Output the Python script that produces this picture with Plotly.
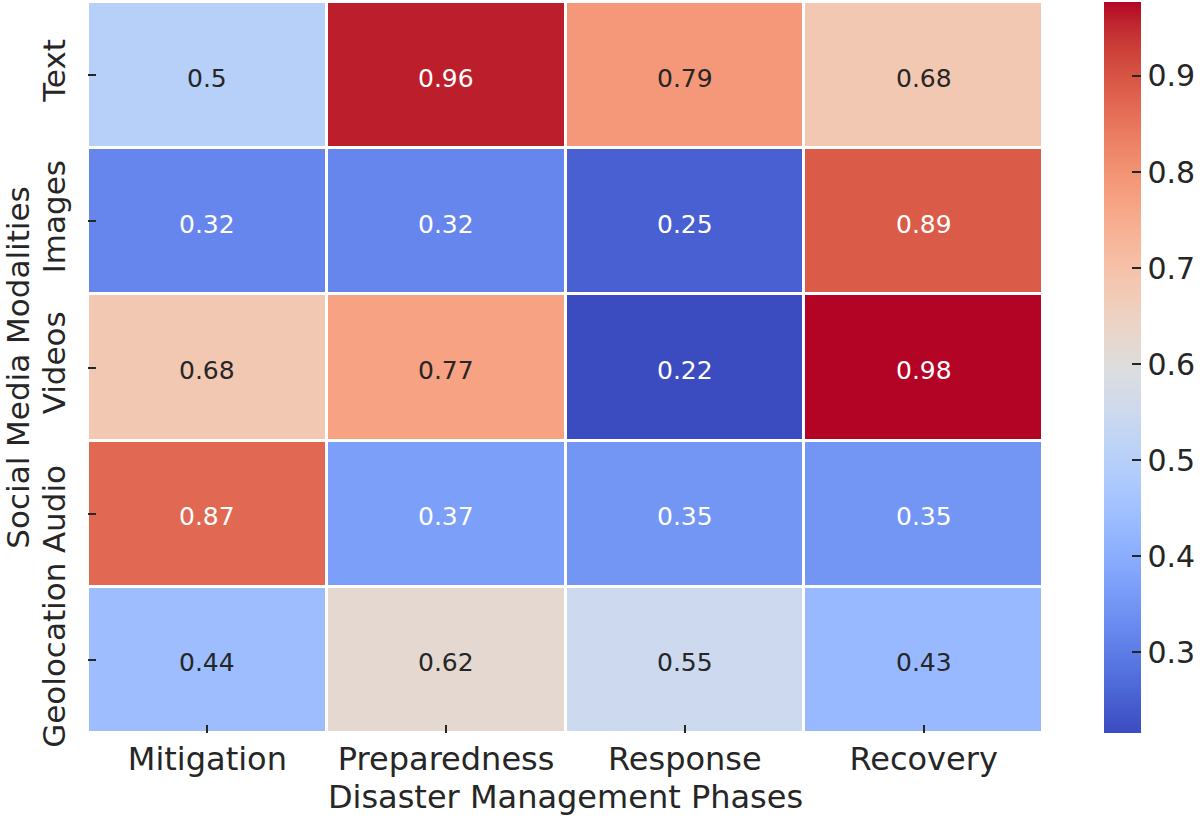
import plotly.graph_objects as go

phases = ["Mitigation", "Preparedness", "Response", "Recovery"]
modalities = ["Text", "Images", "Videos", "Audio", "Geolocation"]
values = [
    [0.50, 0.96, 0.79, 0.68],
    [0.32, 0.32, 0.25, 0.89],
    [0.68, 0.77, 0.216, 0.977],
    [0.87, 0.37, 0.35, 0.35],
    [0.44, 0.62, 0.55, 0.43],
]
cbar_ticks = [0.3, 0.4, 0.5, 0.6, 0.7, 0.8, 0.9]

# matplotlib / Moreland cool-warm table
cw = [
    (59, 76, 192), (68, 90, 204), (77, 104, 215), (87, 117, 225), (98, 130, 234),
    (108, 142, 241), (119, 154, 247), (130, 165, 251), (141, 176, 254), (152, 185, 255),
    (163, 194, 255), (174, 201, 253), (184, 208, 249), (194, 213, 244), (204, 217, 238),
    (213, 219, 230), (221, 221, 221), (229, 216, 209), (236, 211, 197), (241, 204, 185),
    (245, 196, 173), (247, 187, 160), (247, 177, 148), (247, 166, 135), (244, 154, 123),
    (241, 141, 111), (236, 127, 99), (229, 112, 88), (222, 96, 77), (213, 80, 66),
    (203, 62, 56), (192, 40, 47), (180, 4, 38),
]
n = len(cw) - 1
colorscale = [[i / n, "rgb(%d,%d,%d)" % c] for i, c in enumerate(cw)]

flat = [v for row in values for v in row]
zmin, zmax = min(flat), max(flat)


def color_at(v):
    t = (v - zmin) / (zmax - zmin) * n
    i = min(int(t), n - 1)
    f = t - i
    return tuple(cw[i][k] + (cw[i + 1][k] - cw[i][k]) * f for k in range(3))


def lum(rgb):
    out = []
    for c in rgb:
        c = c / 255
        out.append(c / 12.92 if c <= 0.03928 else ((c + 0.055) / 1.055) ** 2.4)
    return 0.2126 * out[0] + 0.7152 * out[1] + 0.0722 * out[2]


fig = go.Figure()
fig.add_trace(go.Heatmap(
    z=values, x=phases, y=modalities,
    colorscale=colorscale, zmin=zmin, zmax=zmax,
    xgap=3, ygap=3, hoverinfo="skip",
    colorbar=dict(
        x=1.0639, xanchor="left", xpad=0, y=0.5, yanchor="middle",
        len=1.0, lenmode="fraction", thickness=37, thicknessmode="pixels",
        outlinewidth=0, ypad=0,
        tickvals=cbar_ticks, ticktext=[str(t) for t in cbar_ticks],
        ticks="inside", ticklen=9, tickwidth=2, tickcolor="#262626",
        tickfont=dict(size=30, color="#262626", family="DejaVu Sans"),
    ),
))

for r, m in enumerate(modalities):
    for c, p in enumerate(phases):
        v = values[r][c]
        fig.add_annotation(
            x=p, y=m, xref="x", yref="y", text="%.2g" % v, showarrow=False,
            yshift=-3,
            font=dict(size=25, family="DejaVu Sans",
                      color="#262626" if lum(color_at(v)) > 0.408 else "white"),
        )

fig.update_layout(
    width=1200, height=820,
    margin=dict(l=88, r=157, t=2, b=87, autoexpand=False),
    paper_bgcolor="white", plot_bgcolor="white",
    font=dict(family="DejaVu Sans", color="#262626"),
    showlegend=False,
)
fig.update_xaxes(
    title=dict(text="Disaster Management Phases", font=dict(size=32), standoff=4),
    tickfont=dict(size=32), ticklabelstandoff=4,
    ticks="inside", ticklen=8, tickwidth=2, tickcolor="#262626",
    showgrid=False, zeroline=False, showline=False,
)
fig.update_yaxes(
    title=dict(text="Social Media Modalities", font=dict(size=31), standoff=3),
    tickfont=dict(size=31), tickangle=-90, autorange="reversed", ticklabelstandoff=16,
    ticks="inside", ticklen=8, tickwidth=2, tickcolor="#262626",
    showgrid=False, zeroline=False, showline=False,
)

fig.write_html(
    "out.html",
    config={"displayModeBar": False},
    post_script="document.body.style.margin='0';document.body.style.overflow='hidden';",
)
